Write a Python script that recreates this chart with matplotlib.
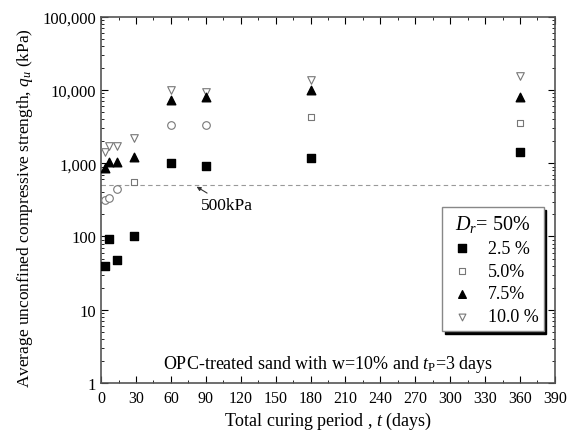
import matplotlib.pyplot as plt
from matplotlib.ticker import MultipleLocator, FuncFormatter, LogLocator, NullFormatter

plt.rcParams['font.family'] = ['Liberation Serif', 'DejaVu Serif']
plt.rcParams['mathtext.fontset'] = 'custom'
plt.rcParams['mathtext.rm'] = 'Liberation Serif'
plt.rcParams['mathtext.it'] = 'Liberation Serif:italic'

days = [3, 7, 14, 28, 60, 90, 180, 360]
qu_25 = [40, 92, 48, 102, 1000, 920, 1180, 1420]
qu_50 = [310, 330, 450, 560, 3300, 3350, 4300, 3500]
mk_50 = ['o', 'o', 'o', 's', 'o', 'o', 's', 's']
qu_75 = [850, 1050, 1050, 1230, 7300, 8000, 10000, 8100]
qu_100 = [1400, 1700, 1700, 2200, 10000, 9500, 13500, 15500]

fig = plt.figure(figsize=(5.68, 4.39), dpi=100)
ax = fig.add_axes([0.178, 0.125, 0.799, 0.835])

ax.axhline(500, color='#999999', ls=(0, (4, 3)), lw=0.8)

ax.scatter(days, qu_100, marker='v', s=30, facecolor='white', edgecolor='#777777', lw=0.8, zorder=3)
for d, q, m in zip(days, qu_50, mk_50):
    ax.scatter(d, q, marker=m, s=30 if m == 'o' else 18, facecolor='white', edgecolor='#777777', lw=0.8, zorder=3)
ax.scatter(days, qu_75, marker='^', s=38, color='black', zorder=4)
ax.scatter(days, qu_25, marker='s', s=38, color='black', zorder=4)

ax.set_yscale('log')
ax.set_xlim(0, 390)
ax.set_ylim(1, 100000)
ax.xaxis.set_major_locator(MultipleLocator(30))
ax.xaxis.set_minor_locator(MultipleLocator(15))
ax.yaxis.set_major_locator(LogLocator(base=10, numticks=10))
ax.yaxis.set_minor_locator(LogLocator(base=10, subs=range(2, 10), numticks=20))
ax.yaxis.set_minor_formatter(NullFormatter())
ax.yaxis.set_major_formatter(FuncFormatter(lambda v, p: f'{int(v):,}'))
ax.tick_params(which='both', direction='in', top=True, right=True, labelsize=12)
ax.tick_params(axis='x', labelsize=11.5, pad=5)
ax.tick_params(which='major', length=5)
ax.tick_params(which='minor', length=2.5)
for s in ax.spines.values():
    s.set_color('#555555')
    s.set_linewidth(1.2)

ax.set_xlabel('Total curing period , $\\it{t}$ (days)', fontsize=13, labelpad=3)
ax.set_ylabel('Average unconfined compressive strength, $q_u$ (kPa)', fontsize=12.5)
ax.yaxis.set_label_coords(-0.145, 0.48)

ax.text(0.5, 0.025, 'OPC-treated sand with w=10% and $t_{\\rm P}$=3 days',
        transform=ax.transAxes, ha='center', va='bottom', fontsize=13)
ax.annotate('500kPa', xy=(80, 500), xytext=(86, 235), fontsize=12.5,
            arrowprops=dict(arrowstyle='-|>', color='#333333', lw=0.8, mutation_scale=6))

h1 = ax.scatter([], [], marker='s', s=30, color='black')
h2 = ax.scatter([], [], marker='s', s=16, facecolor='white', edgecolor='#777777', lw=0.8)
h3 = ax.scatter([], [], marker='^', s=30, color='black')
h4 = ax.scatter([], [], marker='v', s=24, facecolor='white', edgecolor='#777777', lw=0.8)
leg = ax.legend([h1, h2, h3, h4], ['2.5 %', '5.0%', '7.5%', '10.0 %'],
                title='$D_r$= 50%', loc='upper left', bbox_to_anchor=(0.752, 0.48),
                borderaxespad=0, fontsize=13, title_fontsize=14.5, fancybox=False,
                shadow={'color': 'black', 'alpha': 1},
                framealpha=1, edgecolor='#888888', handletextpad=0.6,
                borderpad=0.3, labelspacing=0.33, handlelength=1.6, markerscale=1)
leg.get_frame().set_linewidth(1.0)

fig.savefig('out.png', dpi=100)
